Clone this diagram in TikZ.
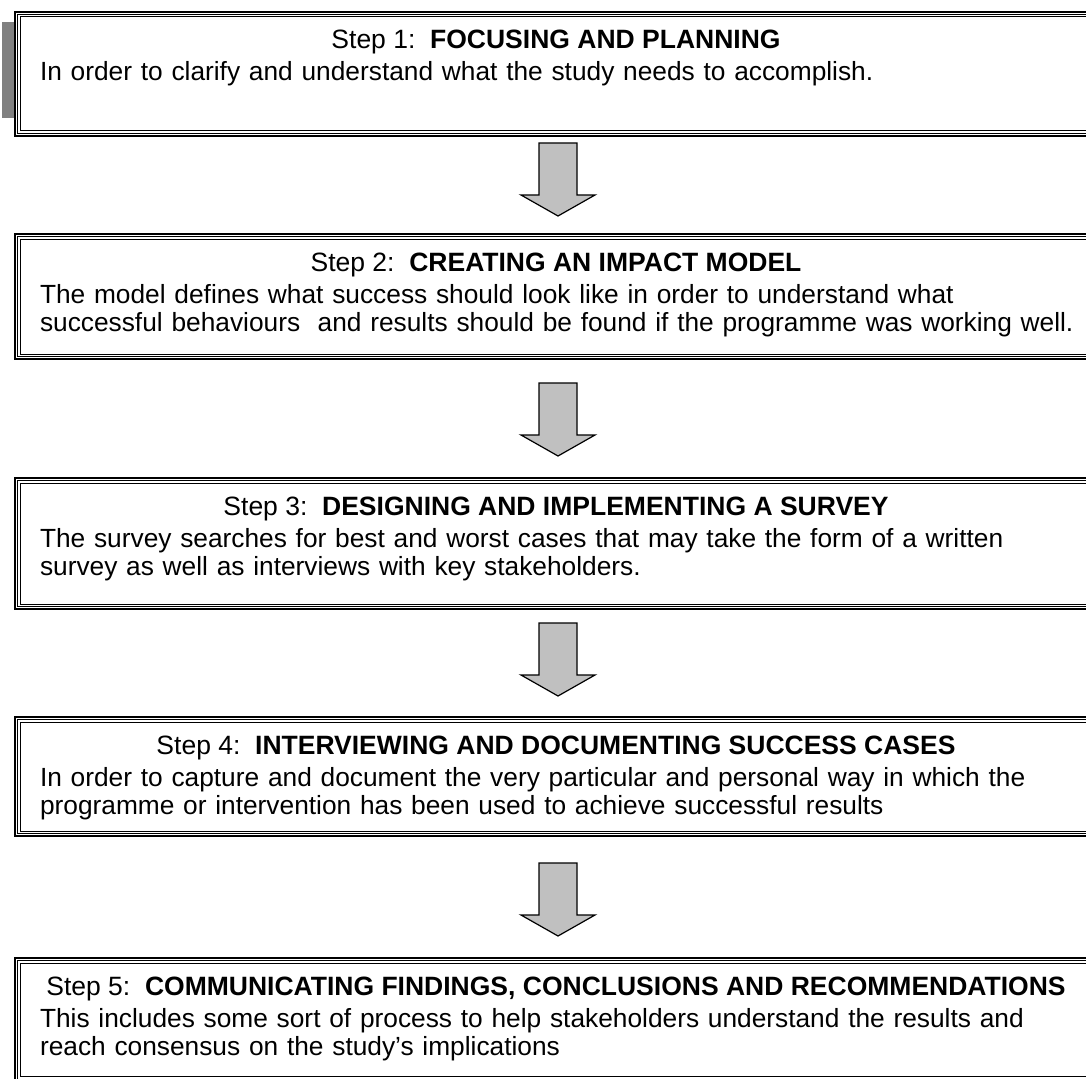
\documentclass[tikz,border=0pt]{standalone}
\usepackage{fontspec}
\setmainfont{Liberation Sans}
\definecolor{arrowgray}{HTML}{C0C0C0}
\definecolor{bargray}{HTML}{808080}
\tikzset{stepbox/.style={draw,rectangle,line width=1.8pt,minimum width=1100pt,anchor=north west},
         innerline/.style={line width=1pt,double,double distance=1.2pt},
         blockarrow/.style={draw,line width=1.2pt,fill=arrowgray,line join=miter},
         stephead/.style={anchor=base,font=\fontsize{26.5}{28.5}\selectfont},
         steptext/.style={anchor=base west,align=left,text width=1080pt,font=\fontsize{26.3}{28.5}\selectfont}}

\begin{document}
\begin{tikzpicture}[x=1pt,y=-1pt]
                  \tikzstyle{every node}=[inner sep=0pt,outer sep=0pt]
                  \useasboundingbox (0,0) rectangle (1086,1078);
                  \clip (0,0) rectangle (1086,1078);
                  \fill[bargray] (2,22) rectangle (15,118);
                  % the five step frames
                  \node[stepbox,minimum height=124.2pt] (box1) at (14.9,11.9) {};
                  \node[stepbox,minimum height=125.2pt] (box2) at (14.9,233.9) {};
                  \node[stepbox,minimum height=131.2pt] (box3) at (14.9,477.9) {};
                  \node[stepbox,minimum height=119.2pt] (box4) at (14.9,716.9) {};
                  \node[stepbox,minimum height=124.1pt] (box5) at (14.9,957.9) {};
                  \foreach \b in {box1,box2,box3,box4,box5}
                    \draw[innerline] ([xshift=4pt,yshift=-4pt]\b.north west) rectangle ([xshift=-4pt,yshift=4pt]\b.south east);
                  % arrows between the steps
                  \foreach \y in {143,383,623,863}
                    \draw[blockarrow] (539,\y) -- (577,\y) -- (577,\y+52) -- (595,\y+52) -- (558,\y+73) -- (521,\y+52) -- (539,\y+52) -- cycle;
                  % headings and texts
                  \node[stephead] (head1) at (556,49) {Step 1:\ \ \textbf{FOCUSING AND PLANNING}};
                  \node[steptext] (text1) at (40,81) {In order to clarify and understand what the study needs to accomplish.};
                  \node[stephead] (head2) at (556,271) {Step 2:\ \ \textbf{CREATING AN IMPACT MODEL}};
                  \node[steptext] (text2) at (40,303) {The model defines what success should look like in order to understand what\\
                    successful behaviours\ \ and results should be found if the programme was working well.};
                  \node[stephead] (head3) at (556,515) {Step 3:\ \ \textbf{DESIGNING AND IMPLEMENTING A SURVEY}};
                  \node[steptext] (text3) at (40,547) {The survey searches for best and worst cases that may take the form of a written\\
                    survey as well as interviews with key stakeholders.};
                  \node[stephead] (head4) at (556,754) {Step 4:\ \ \textbf{INTERVIEWING AND DOCUMENTING SUCCESS CASES}};
                  \node[steptext] (text4) at (40,786) {\makebox[1032pt][s]{In order to capture and document the very particular and personal way in which the}\\
                    programme or intervention has been used to achieve successful results};
                  \node[stephead] (head5) at (556,995) {Step 5:\ \ \textbf{COMMUNICATING FINDINGS, CONCLUSIONS AND RECOMMENDATIONS}};
                  \node[steptext] (text5) at (40,1027) {This includes some sort of process to help stakeholders understand the results and\\
                    reach consensus on the study’s implications};
              \end{tikzpicture}
\end{document}
